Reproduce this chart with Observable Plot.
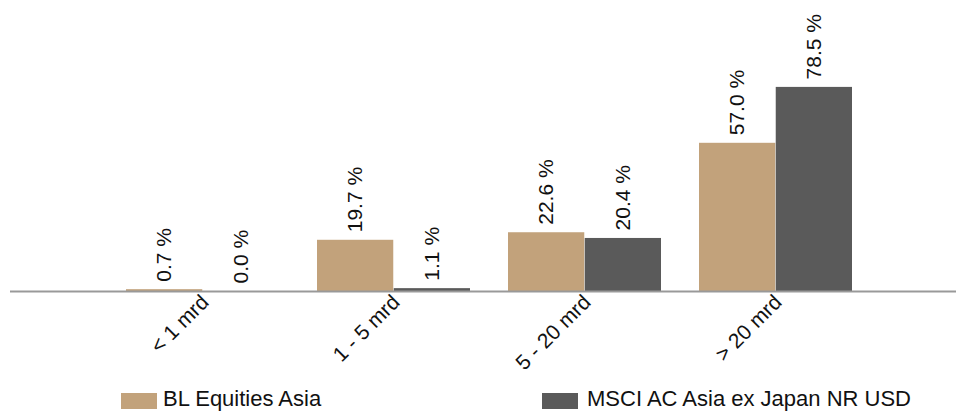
<!DOCTYPE html>
<html>
<head>
<meta charset="utf-8">
<script src="https://cdn.jsdelivr.net/npm/d3@7"></script>
<script src="https://cdn.jsdelivr.net/npm/@observablehq/plot@0.6"></script>
<style>
  html, body { margin: 0; padding: 0; background: #fff; }
  #wrap { position: relative; width: 956px; height: 412px; font-family: "Liberation Sans", Arial, sans-serif; color: #111; }
  #chart svg { display: block; }
  .lg-box { position: absolute; width: 36px; height: 16px; }
  .lg-text { position: absolute; font-size: 22px; line-height: 20px; white-space: nowrap; }
</style>
</head>
<body>
<div id="wrap">
  <div id="chart"></div>
  <div id="legend"></div>
</div>
<script>
const categories = ["< 1 mrd", "1 - 5 mrd", "5 - 20 mrd", "> 20 mrd"];
const series = ["BL Equities Asia", "MSCI AC Asia ex Japan NR USD"];
const fundValues = [0.7, 19.7, 22.6, 57.0];
const indexValues = [0.0, 1.1, 20.4, 78.5];
const colors = ["#c2a27b", "#5a5a5a"];

const fundData = categories.map((c, i) => ({category: c, series: series[0], value: fundValues[i]}));
const indexData = categories.map((c, i) => ({category: c, series: series[1], value: indexValues[i]}));

const xRange = [124, 853];
const padInner = 0.2;
const step = (xRange[1] - xRange[0]) / (categories.length - padInner);
const bw = step * (1 - padInner);
const half = bw / 2;
const fmt = d => d.value.toFixed(1) + " %";

const chart = Plot.plot({
  width: 956,
  height: 385,
  marginLeft: 10,
  marginRight: 0,
  marginTop: 31,
  marginBottom: 94,
  style: {fontFamily: "Liberation Sans, Arial, sans-serif", color: "#111", background: "#fff"},
  x: {domain: categories, range: xRange, paddingInner: padInner, paddingOuter: 0, axis: null},
  y: {domain: [0, 100], axis: null},
  color: {domain: series, range: colors},
  marks: [
    Plot.barY(fundData, {x: "category", y: "value", fill: "series", insetRight: half}),
    Plot.barY(indexData, {x: "category", y: "value", fill: "series", insetLeft: half}),
    Plot.ruleY([0], {stroke: "#999", strokeWidth: 2}),
    Plot.text(fundData, {x: "category", y: "value", text: fmt, rotate: -90, textAnchor: "start", dx: -half / 2, dy: -8, fontSize: 21, fill: "#111"}),
    Plot.text(indexData, {x: "category", y: "value", text: fmt, rotate: -90, textAnchor: "start", dx: half / 2, dy: -8, fontSize: 21, fill: "#111"}),
    Plot.text(categories, {x: d => d, frameAnchor: "bottom", text: d => d, rotate: -45, textAnchor: "end", dx: 7, dy: 12, fontSize: 21, fill: "#111"})
  ]
});
document.getElementById("chart").appendChild(chart);

const legend = document.getElementById("legend");
const legendPos = [{box: 121, text: 163}, {box: 542, text: 587}];
series.forEach((s, i) => {
  const b = document.createElement("div");
  b.className = "lg-box";
  b.style.left = legendPos[i].box + "px";
  b.style.top = "393px";
  b.style.background = colors[i];
  legend.appendChild(b);
  const t = document.createElement("div");
  t.className = "lg-text";
  t.style.left = legendPos[i].text + "px";
  t.style.top = "389px";
  t.textContent = s;
  legend.appendChild(t);
});
</script>
</body>
</html>
